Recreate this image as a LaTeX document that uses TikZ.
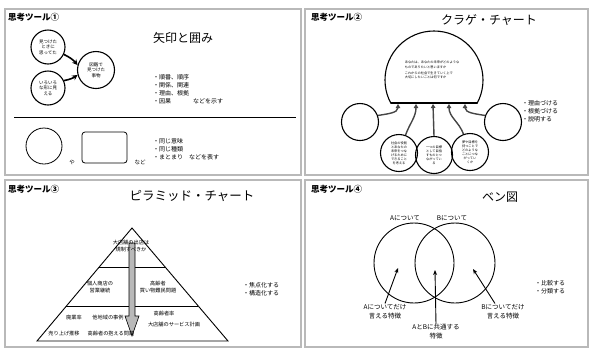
\documentclass[tikz,border=0pt]{standalone}
\usepackage{fontspec}
\setmainfont{Noto Sans CJK JP}
\usetikzlibrary{arrows.meta}
\begin{document}
\begin{tikzpicture}[x=1pt,y=-1pt,
  panel/.style={draw=gray!55, line width=1.2pt},
  tool/.style={anchor=west, font=\fontsize{8.5}{10}\selectfont\bfseries, inner sep=0},
  ttl/.style={font=\fontsize{12}{14}\selectfont, inner sep=0},
  lst/.style={anchor=west, font=\fontsize{6}{8}\selectfont, inner sep=0, align=left},
  ctext/.style={circle, draw, line width=1.1pt, font=\fontsize{4.5}{5.5}\selectfont, align=center, inner sep=0},
  jcirc/.style={circle, draw, line width=1.1pt, font=\fontsize{3.2}{4}\selectfont, align=center, inner sep=0, minimum size=37pt},
  bigarr/.style={line width=1.6pt, -{Stealth[length=5.5pt,width=5.5pt]}},
  jarr/.style={draw=gray!55!black, line width=1.4pt, -{Triangle[length=4pt,width=4.5pt]}},
  varr/.style={line width=0.9pt, -{Stealth[length=5pt,width=4pt]}},
  ptxt/.style={font=\fontsize{5.2}{6.5}\selectfont, inner sep=0, align=center},
  vtxt/.style={font=\fontsize{6.5}{9}\selectfont, inner sep=0, align=center}
]
\useasboundingbox[fill=white] (0,0) rectangle (590,349);

% panels
\draw[panel] (5,9) rectangle (301,175);
\draw[panel] (305,9) rectangle (588,175);
\draw[panel] (5,180) rectangle (301,347);
\draw[panel] (305,180) rectangle (588,347);

\node[tool] (t1) at (8,17) {思考ツール①};
\node[tool] (t2) at (311,17) {思考ツール②};
\node[tool] (t3) at (8,189) {思考ツール③};
\node[tool] (t4) at (311,189) {思考ツール④};

% ---------- Panel 1
\node[ttl] (h1) at (183,38) {矢印と囲み};
\node[ctext, minimum size=34pt] (c1) at (48,47) {見つけた\\ときに\\思ってた};
\node[ctext, minimum size=34pt] (c2) at (48,88) {いろいろ\\な形に見\\える};
\node[ctext, minimum size=37pt] (c3) at (96,70) {図鑑で\\見つけた\\事物};
\draw[bigarr] (c1.-25) to[bend left=12] (c3.165);
\draw[bigarr] (c2.25) to[bend right=12] (c3.195);
\node[lst] (l1) at (153,89) {・順番、順序\\・関係、関連\\・理由、根拠\\・因果\hspace{22pt}などを示す};
\coordinate (hl1) at (14,117);
\coordinate (hl2) at (296,117);
\draw[line width=0.9pt] (hl1) -- (hl2);
\node[circle, draw, line width=0.8pt, minimum size=36pt] (oc) at (44,146) {};
\node[font=\fontsize{5.5}{6}\selectfont, inner sep=0] (ya) at (72,162) {や};
\node[draw, rounded corners=3pt, line width=0.8pt, minimum width=45pt, minimum height=31pt] (rb) at (104.5,147.5) {};
\node[font=\fontsize{5.5}{6}\selectfont, inner sep=0] (nado) at (140,162) {など};
\node[lst] (l2) at (153,149) {・同じ意味\\・同じ種類\\・まとまり\hspace{6pt}などを表す};

% ---------- Panel 2
\node[ttl] (h2) at (489,20) {クラゲ・チャート};
\begin{scope}
\clip (380,20) rectangle (490,103);
\draw[line width=1.1pt] (434,80) circle[radius=49];
\end{scope}
\coordinate (dl) at (390.7,103);
\coordinate (dr) at (477.3,103);
\draw[line width=1.1pt] (dl) -- (dr);
\node[font=\fontsize{3.2}{4.2}\selectfont, align=left, inner sep=0] (dtx) at (432,70)
  {あなたは、あなたの未来がどのような\\ものでありたいと思いますか\\[2pt]これからの社会で生きていく上で\\大切にしたいことは何ですか};
\node[jcirc] (lc) at (360,122) {};
\node[jcirc] (rc) at (503,122) {};
\node[jcirc] (b1) at (399,153) {社会の役割\\とあなたの\\未来をつな\\げるために\\できること\\を考える};
\node[jcirc] (b2) at (434,155) {一つの目標\\として目指\\すものとつ\\ながってい\\る};
\node[jcirc] (b3) at (470,152) {夢や目標を\\持つことで\\どのような\\ことにつな\\がってい\\くか};
\coordinate (d1) at (398,104);
\coordinate (d2) at (416,104);
\coordinate (d3) at (433,104);
\coordinate (d4) at (449,104);
\coordinate (d5) at (465,104);
\draw[jarr] (lc.20) to[out=10,in=-90] (d1);
\draw[jarr] (b1.70) to[out=70,in=-90] (d2);
\draw[jarr] (b2.north) -- (d3);
\draw[jarr] (b3.110) to[out=110,in=-90] (d4);
\draw[jarr] (rc.160) to[out=170,in=-90] (d5);
\node[lst] (l3) at (522,111) {・理由づける\\・根拠づける\\・説明する};

% ---------- Panel 3
\node[font=\fontsize{12.5}{14}\selectfont, inner sep=0] (h3) at (192,196) {ピラミッド・チャート};
\draw[line width=0.9pt] (132,228) -- (37,341) -- (228,341) -- cycle;
\draw[line width=0.9pt] (99.2,267) -- (164.8,267);
\draw[line width=0.9pt] (66.1,306) -- (197.9,306);
\draw[line width=0.6pt, fill=gray!55] (129,243) -- (135,243) -- (135,316) -- (139,316) -- (132,336) -- (125,316) -- (129,316) -- cycle;
\node[ptxt] (p1) at (131,246) {大店舗の出店は\\規制すべきか};
\node[ptxt] (p2) at (100,287) {個人商店の\\営業継続};
\node[ptxt] (p3) at (158,287) {高齢者\\買い物難民問題};
\node[ptxt] (p4) at (74,318) {廃業率};
\node[ptxt] (p5) at (108,318) {他地域の事例};
\node[ptxt] (p6) at (164,314) {高齢者率};
\node[ptxt] (p7) at (174,325) {大店舗のサービス計画};
\node[ptxt] (p8) at (64,334) {売り上げ推移};
\node[ptxt] (p9) at (111,334) {高齢者の抱える問題};
\node[lst] (l4) at (243,289) {・焦点化する\\・構造化する};

% ---------- Panel 4
\node[ttl] (h4) at (500,197) {ベン図};
\node[circle, draw, line width=0.9pt, minimum size=80pt, inner sep=0] (va) at (414,263) {};
\node[circle, draw, line width=0.9pt, minimum size=80pt, inner sep=0] (vb) at (455,263) {};
\node[vtxt] (ta) at (405,218) {Aについて};
\node[vtxt] (tb) at (452,218) {Bについて};
\node[vtxt] (la) at (385,312) {Aについてだけ\\言える特徴};
\node[vtxt] (lab) at (436,332) {AとBに共通する\\特徴};
\node[vtxt] (lb) at (503,312) {Bについてだけ\\言える特徴};
\coordinate (ea) at (398,268);
\coordinate (eab) at (435,270);
\coordinate (eb) at (473,269);
\draw[varr] (la.north) ++(0,-1) -- (ea);
\draw[varr] (lab.north) -- (eab);
\draw[varr] (lb.north) ++(-8,-1) -- (eb);
\node[lst] (l5) at (535,287) {・比較する\\・分類する};
\end{tikzpicture}
\end{document}
